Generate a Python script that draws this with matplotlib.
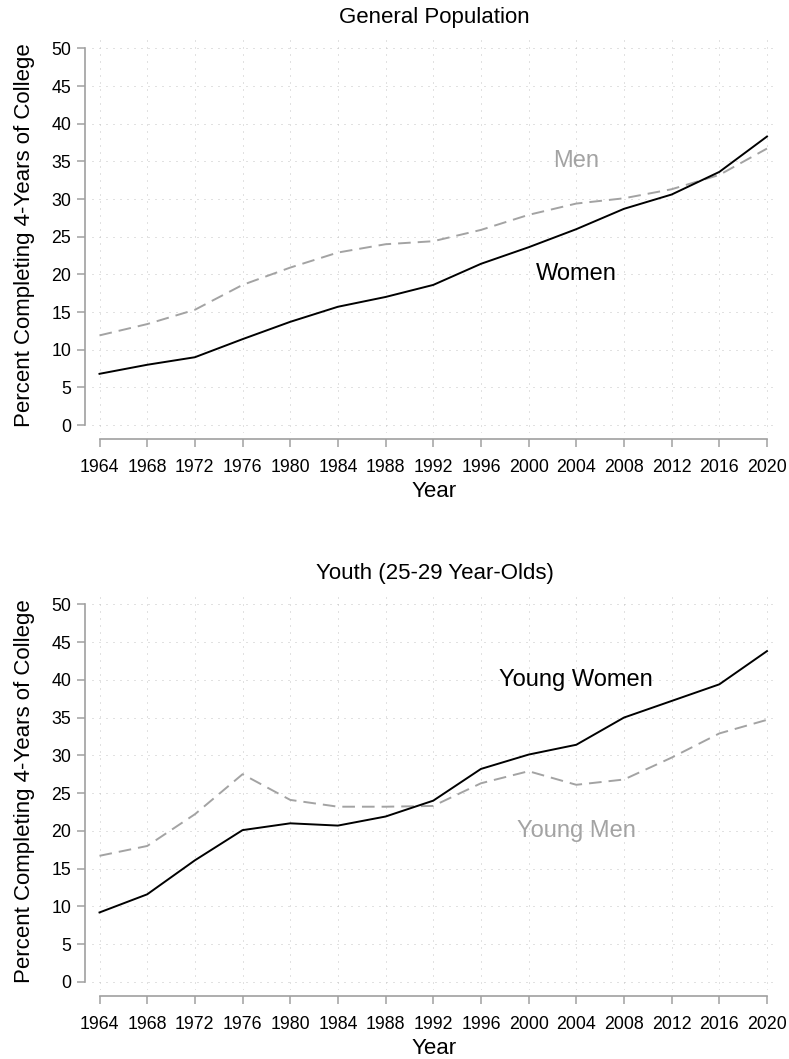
import matplotlib
matplotlib.use("Agg")
import matplotlib.pyplot as plt

plt.rcParams['font.family'] = ['Liberation Sans', 'DejaVu Sans']

years = [1964, 1968, 1972, 1976, 1980, 1984, 1988, 1992, 1996, 2000, 2004, 2008, 2012, 2016, 2020]

# all adults
women = [6.8, 8.0, 9.0, 11.4, 13.7, 15.7, 17.0, 18.6, 21.4, 23.6, 26.0, 28.7, 30.6, 33.6, 38.3]
men = [11.9, 13.4, 15.3, 18.6, 20.9, 22.9, 24.0, 24.4, 25.9, 27.9, 29.4, 30.1, 31.3, 33.2, 36.7]

# 25-29 year olds
young_women = [9.2, 11.6, 16.1, 20.1, 21.0, 20.7, 21.9, 24.0, 28.2, 30.1, 31.4, 35.0, 37.2, 39.4, 43.8]
young_men = [16.7, 18.0, 22.2, 27.5, 24.1, 23.2, 23.2, 23.3, 26.3, 27.9, 26.1, 26.8, 29.7, 32.9, 34.7]

GRAY = '#a3a3a3'
AXGRAY = '#a0a0a0'

fig = plt.figure(figsize=(7.89, 10.59), dpi=100)
ax1 = fig.add_axes([0.1166, 0.5911, 0.8682, 0.3739])
ax2 = fig.add_axes([0.1166, 0.0652, 0.8682, 0.3749])


def style(ax, title):
    ax.set_xlim(1963.37, 2020.84)
    ax.set_ylim(-1.06, 51.5)
    ax.set_xticks(years)
    ax.set_yticks(range(0, 51, 5))
    ax.grid(True, color='#c4c4c4', linestyle=(0, (1, 6)), linewidth=0.72)
    ax.set_axisbelow(True)
    for s in ['top', 'right']:
        ax.spines[s].set_visible(False)
    ax.spines['left'].set_position(('outward', 5))
    ax.spines['bottom'].set_position(('outward', 4.5))
    ax.spines['left'].set_bounds(0, 50)
    ax.spines['bottom'].set_bounds(1964, 2020)
    for s in ['left', 'bottom']:
        ax.spines[s].set_color(AXGRAY)
        ax.spines[s].set_linewidth(1.2)
    ax.tick_params(axis='both', direction='out', length=6, width=1.1,
                   color=AXGRAY, labelsize=12.8)
    ax.tick_params(axis='y', pad=4)
    ax.tick_params(axis='x', pad=8)
    ax.set_title(title, fontsize=16, pad=10)
    ax.set_xlabel('Year', fontsize=16, labelpad=3.5)
    ax.set_ylabel('Percent Completing 4-Years of College', fontsize=16, labelpad=12)


style(ax1, 'General Population')
ax1.plot(years, men, color=GRAY, linewidth=1.4, dashes=(6.5, 3.6))
ax1.plot(years, women, color='black', linewidth=1.4)
ax1.text(2004, 35, 'Men', color=GRAY, fontsize=17, ha='center', va='center')
ax1.text(2004, 20, 'Women', color='black', fontsize=17, ha='center', va='center')

style(ax2, 'Youth (25-29 Year-Olds)')
ax2.plot(years, young_men, color=GRAY, linewidth=1.4, dashes=(6.5, 3.6))
ax2.plot(years, young_women, color='black', linewidth=1.4)
ax2.text(2004, 40, 'Young Women', color='black', fontsize=17, ha='center', va='center')
ax2.text(2004, 20, 'Young Men', color=GRAY, fontsize=17, ha='center', va='center')

fig.savefig('out.png', dpi=100)
